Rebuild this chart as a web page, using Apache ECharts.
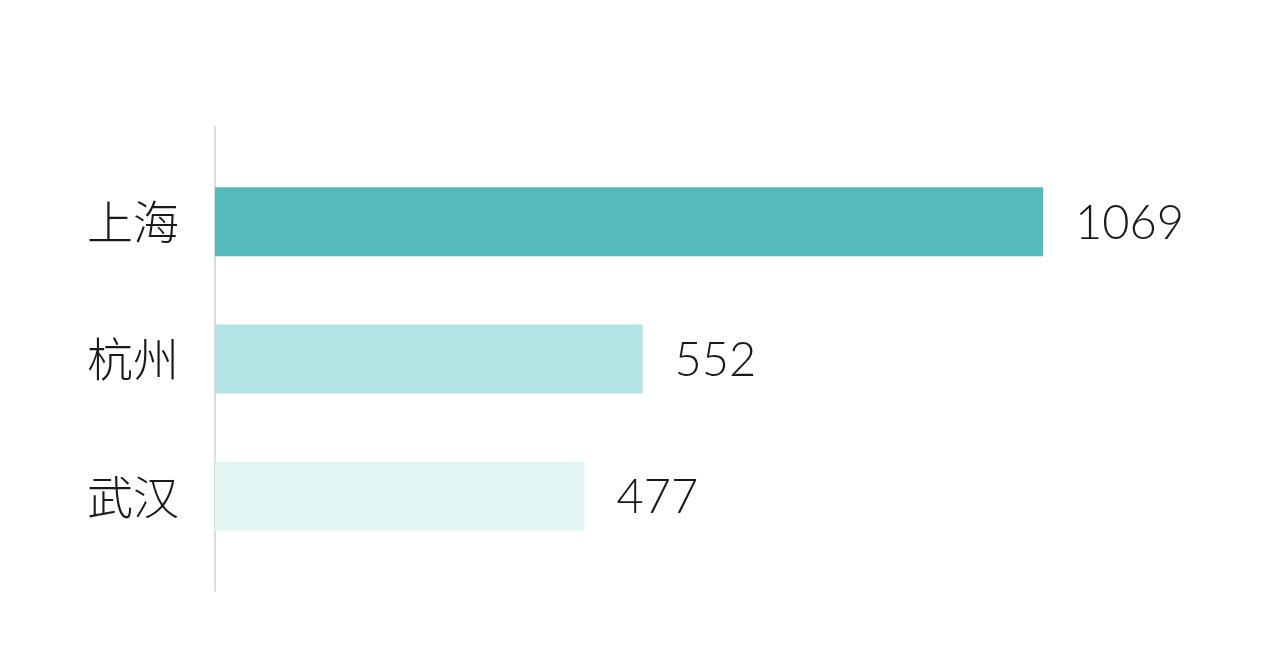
<!DOCTYPE html>
<html>
<head>
<meta charset="utf-8">
<script src="https://cdn.jsdelivr.net/npm/echarts@6/dist/echarts.min.js"></script>
<style>
  html, body { margin: 0; padding: 0; background: #fff; }
  #chart { width: 1280px; height: 647px; }
</style>
</head>
<body>
<div id="chart"></div>
<script>
  // 城市与数值
  var cities = ['上海', '杭州', '武汉'];
  var values = [1069, 552, 477];
  var barColors = ['#55bbba', '#b3e4e4', '#e3f5f5'];

  var myChart = echarts.init(document.getElementById('chart'));

  var seriesData = values.map(function (v, i) {
    return { value: v, itemStyle: { color: barColors[i] } };
  });

  var option = {
    backgroundColor: '#fff',
    animation: false,
    grid: [
      { left: 215, right: 58, top: 153, height: 412 },
      // 只用来画左侧那条竖线
      { left: 215, right: 58, top: 127, bottom: 56 }
    ],
    xAxis: [
      { type: 'value', gridIndex: 0, min: 0, max: 1300, show: false },
      { type: 'value', gridIndex: 1, min: 0, max: 1300, show: false }
    ],
    yAxis: [
      {
        type: 'category',
        gridIndex: 0,
        inverse: true,
        data: cities,
        axisLine: { show: false },
        axisTick: { show: false },
        axisLabel: {
          margin: 36,
          fontSize: 46,
          fontWeight: 300,
          color: '#1a1a1a',
          fontFamily: '"Noto Sans CJK SC", sans-serif'
        }
      },
      {
        type: 'category',
        gridIndex: 1,
        data: [''],
        axisLine: { show: true, lineStyle: { color: '#dcdcdc', width: 2 } },
        axisTick: { show: false },
        axisLabel: { show: false }
      }
    ],
    series: [
      {
        type: 'bar',
        xAxisIndex: 0,
        yAxisIndex: 0,
        barWidth: 69,
        data: seriesData,
        label: {
          show: true,
          position: 'right',
          distance: 32,
          offset: [0, 2],
          fontSize: 47,
          fontWeight: 300,
          color: '#1a1a1a',
          fontFamily: 'Lato, sans-serif'
        }
      }
    ]
  };
  myChart.setOption(option, true);
</script>
</body>
</html>
